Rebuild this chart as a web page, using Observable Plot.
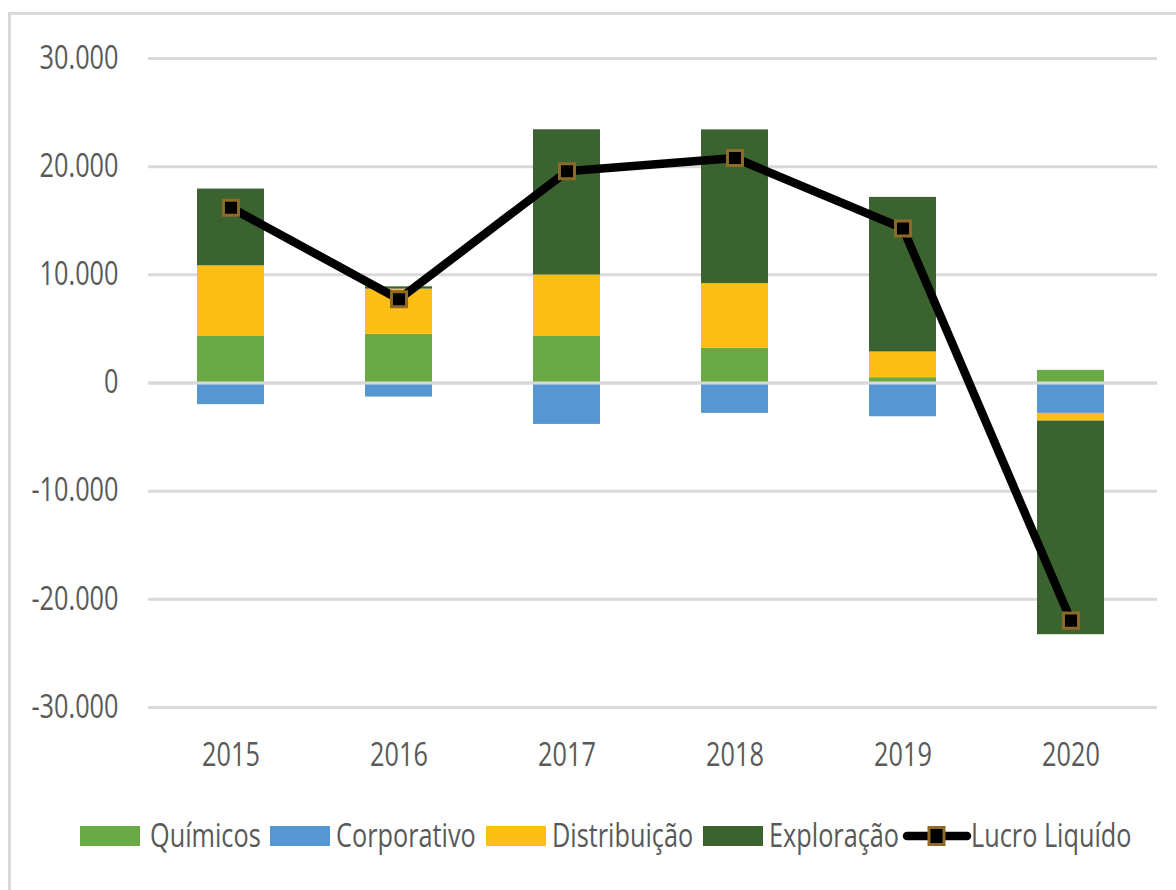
<!DOCTYPE html>
<html>
<head>
<meta charset="utf-8">
<script src="https://cdn.jsdelivr.net/npm/d3@7"></script>
<script src="https://cdn.jsdelivr.net/npm/@observablehq/plot@0.6"></script>
<style>
  html, body { margin: 0; padding: 0; background: #fff; width: 1176px; height: 890px; overflow: hidden; }
  #frame { position: absolute; left: 8px; top: 12px; width: 1200px; height: 900px; border: 3px solid #d9d9d9; box-sizing: border-box; }
  #chart { position: absolute; left: 0; top: 0; }
  #legend { position: absolute; left: 0; top: 0; width: 1176px; height: 890px; pointer-events: none;
    font-family: "Open Sans", sans-serif; font-size: 32px; color: #595959; }
  .sw { position: absolute; top: 826px; width: 60px; height: 20px; }
  .lt { position: absolute; top: 813px; line-height: 44px; white-space: nowrap; transform: scaleX(0.79); transform-origin: 0 50%; }
</style>
</head>
<body>
<div id="frame"></div>
<div id="chart"></div>
<div id="legend"></div>
<script>
const years = ["2015", "2016", "2017", "2018", "2019", "2020"];
const seriesNames = ["Químicos", "Corporativo", "Distribuição", "Exploração"];
const quimicos     = [4300, 4500, 4300, 3210, 490, 1170];
const corporativo  = [-2000, -1300, -3830, -2810, -3120, -2810];
const distribuicao = [6530, 4180, 5680, 5980, 2380, -710];
const exploracao   = [7100, 210, 13430, 14210, 14290, -19750];
const lucroLiquido = [16200, 7750, 19570, 20800, 14290, -21970];
const yTicks = [-30000, -20000, -10000, 0, 10000, 20000, 30000];
const colors = ["#6aaa45", "#5497d3", "#fdbf13", "#3a6330"];
const lineName = "Lucro Liquído";

const seriesValues = [quimicos, corporativo, distribuicao, exploracao];
const rows = [];
seriesNames.forEach((s, i) => years.forEach((y, j) => rows.push({year: y, series: s, value: seriesValues[i][j]})));
const lucro = years.map((y, j) => ({year: y, value: lucroLiquido[j]}));

const fmt = d3.formatLocale({decimal: ",", thousands: ".", grouping: [3], currency: ["", ""], minus: "-"}).format(",");

const chart = Plot.plot({
  width: 1176,
  height: 790,
  marginTop: 58,
  marginBottom: 83,
  marginLeft: 148,
  marginRight: 19,
  style: {fontFamily: '"Open Sans", sans-serif', fontSize: "32px", color: "#595959", background: "transparent"},
  x: {domain: years, paddingInner: 0.6, paddingOuter: 0.3, align: 0.48, label: null, tickSize: 0, tickPadding: 36},
  y: {domain: [-30000, 30000], ticks: yTicks, tickFormat: fmt, label: null, tickSize: 0, tickPadding: 30},
  color: {domain: seriesNames, range: colors},
  marks: [
    Plot.ruleY(yTicks, {stroke: "#d9d9d9", strokeWidth: 3}),
    Plot.barY(rows, Plot.stackY({x: "year", y: "value", fill: "series", order: seriesNames})),
    Plot.ruleY([0], {stroke: "#d9d9d9", strokeWidth: 3}),
    Plot.line(lucro, {x: "year", y: "value", stroke: "#000", strokeWidth: 8.5, strokeLinejoin: "round"}),
    Plot.dot(lucro, {x: "year", y: "value", symbol: "square", r: 8.5, fill: "#000", stroke: "#8d6a28", strokeWidth: 3})
  ]
});
// condense the text horizontally (the reference uses a narrow face)
chart.querySelectorAll("text").forEach(t => {
  const x = t.getAttribute("x");
  let tr = t.getAttribute("transform") || "";
  if (x !== null && !x.includes(" ")) {
    tr += ` translate(${x},0)`;
    t.removeAttribute("x");
  }
  t.setAttribute("transform", (tr + " scale(0.79,1)").trim());
});
document.getElementById("chart").appendChild(chart);

const legend = document.getElementById("legend");
const swX = [80, 270, 486, 703];
const txX = [150, 336, 552, 769];
seriesNames.forEach((s, i) => {
  const sw = document.createElement("div");
  sw.className = "sw";
  sw.style.left = swX[i] + "px";
  sw.style.background = colors[i];
  legend.appendChild(sw);
  const tx = document.createElement("div");
  tx.className = "lt";
  tx.style.left = txX[i] + "px";
  tx.textContent = s;
  legend.appendChild(tx);
});
const ic = document.createElementNS("http://www.w3.org/2000/svg", "svg");
ic.setAttribute("width", "72");
ic.setAttribute("height", "30");
ic.style.position = "absolute";
ic.style.left = "900px";
ic.style.top = "821px";
ic.innerHTML = `<line x1="7" x2="67" y1="15" y2="15" stroke="#000" stroke-width="8.5" stroke-linecap="round"/><rect x="29" y="6.5" width="15" height="17" fill="#000" stroke="#8d6a28" stroke-width="3"/>`;
legend.appendChild(ic);
const lt = document.createElement("div");
lt.className = "lt";
lt.style.left = "971px";
lt.textContent = lineName;
legend.appendChild(lt);
</script>
</body>
</html>
